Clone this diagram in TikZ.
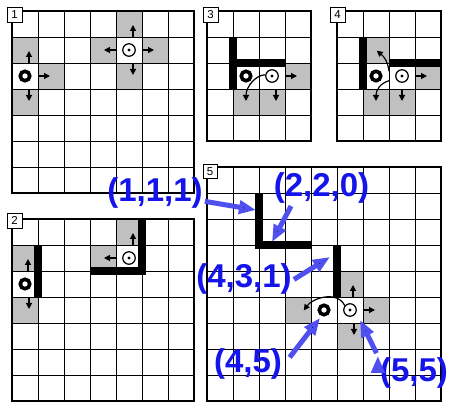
\documentclass[tikz,border=0pt]{standalone}
\usepackage{fontspec}
\setsansfont{Liberation Sans}
\usetikzlibrary{arrows.meta,positioning}
\definecolor{cellgray}{RGB}{192,192,192}
\definecolor{labelblue}{RGB}{20,20,235}
\definecolor{arrowblue}{RGB}{80,80,240}

\begin{document}
\begin{tikzpicture}[x=1pt,y=-1pt,
	cell/.style={draw,line width=0.9pt,minimum size=26pt,inner sep=0pt,outer sep=0pt},
	gridframe/.style={line width=2.2pt},
	wall/.style={line width=7.5pt,line cap=butt,line join=miter},
	ring/.style={circle,draw,line width=3.6pt,minimum size=9.5pt,inner sep=0pt,fill=white},
	goal/.style={circle,draw,line width=1.2pt,minimum size=12.5pt,inner sep=0pt,fill=white,
		path picture={\fill[black] (path picture bounding box.center) circle (1.7pt);}},
	mv/.style={-{Triangle[length=6pt,width=6pt]},line width=1.2pt,shorten >=1pt},
	tag/.style={draw,fill=white,line width=0.8pt,minimum size=15pt,inner sep=0pt,font=\sffamily\fontsize{11.5}{12}\selectfont},
	coordlabel/.style={font=\sffamily\bfseries\fontsize{33}{33}\selectfont,text=labelblue,inner sep=2pt,anchor=base},
	pointer/.style={-{Triangle[length=17pt,width=13pt]},line width=5pt,draw=arrowblue}]

	\fill[white] (0,0) rectangle (459,411);
	\useasboundingbox (0,0) rectangle (459,411);

	% panel 1
	\begin{scope}[shift={(12,11)},x=26pt,y=-26pt]
		\foreach \c/\r in {0/1,1/2,0/3,4/0,3/1,5/1,4/2}
			\fill[cellgray] (\c,\r) rectangle ++(1,1);
		\foreach \c in {0,...,6}
			\foreach \r in {0,...,6}
				\node[cell] (p1-\c-\r) at (\c+0.5,\r+0.5) {};
		\draw[gridframe] (0,0) rectangle (7,7);
		\node[ring] (r1) at (p1-0-2) {};
		\node[goal] (g1) at (p1-4-1) {};
	\end{scope}
	\path[mv]
		([xshift=4pt]p1-0-2.north) edge ([xshift=4pt]p1-0-1.center)
		(p1-0-2.east) edge (p1-1-2.center)
		([xshift=4pt]p1-0-2.south) edge ([xshift=4pt]p1-0-3.center)
		([xshift=4pt]p1-4-1.north) edge ([xshift=4pt]p1-4-0.center)
		(p1-4-1.west) edge (p1-3-1.center)
		(p1-4-1.east) edge (p1-5-1.center)
		([xshift=4pt]p1-4-1.south) edge ([xshift=4pt]p1-4-2.center);

	% panel 2
	\begin{scope}[shift={(12,219)},x=26pt,y=-26pt]
		\foreach \c/\r in {0/1,0/3,4/0,3/1}
			\fill[cellgray] (\c,\r) rectangle ++(1,1);
		\foreach \c in {0,...,6}
			\foreach \r in {0,...,6}
				\node[cell] (p2-\c-\r) at (\c+0.5,\r+0.5) {};
		\draw[gridframe] (0,0) rectangle (7,7);
		\draw[wall] (1,1) -- (1,3);
		\draw[wall] (5,0) -- (5,2) -- (3,2);
		\node[ring] (r2) at (p2-0-2) {};
		\node[goal] (g2) at (p2-4-1) {};
	\end{scope}
	\path[mv]
		([xshift=3pt]p2-0-2.north) edge ([xshift=3pt]p2-0-1.center)
		([xshift=4pt]p2-0-2.south) edge ([xshift=4pt]p2-0-3.center)
		([xshift=4pt]p2-4-1.north) edge ([xshift=4pt]p2-4-0.center)
		(p2-4-1.west) edge (p2-3-1.center);

	% panel 3
	\begin{scope}[shift={(207,11)},x=26pt,y=-26pt]
		\foreach \c/\r in {3/2,1/3,2/3}
			\fill[cellgray] (\c,\r) rectangle ++(1,1);
		\foreach \c in {0,...,3}
			\foreach \r in {0,...,4}
				\node[cell] (p3-\c-\r) at (\c+0.5,\r+0.5) {};
		\draw[gridframe] (0,0) rectangle (4,5);
		\draw[wall] (1,1) -- (1,3);
		\draw[wall] (1,2) -- (3,2);
		\node[ring] (r3) at (p3-1-2) {};
		\node[goal] (g3) at (p3-2-2) {};
		\draw[mv] (g3.170) .. controls +(-0.35,0) and +(0,-0.6) .. (p3-1-3.center);
	\end{scope}
	\path[mv]
		(p3-2-2.east) edge (p3-3-2.center)
		([xshift=4pt]p3-2-2.south) edge ([xshift=4pt]p3-2-3.center);

	% panel 4
	\begin{scope}[shift={(337,11)},x=26pt,y=-26pt]
		\foreach \c/\r in {1/1,3/2,1/3,2/3}
			\fill[cellgray] (\c,\r) rectangle ++(1,1);
		\foreach \c in {0,...,3}
			\foreach \r in {0,...,4}
				\node[cell] (p4-\c-\r) at (\c+0.5,\r+0.5) {};
		\draw[gridframe] (0,0) rectangle (4,5);
		\draw[wall] (1,1) -- (1,3);
		\draw[wall] (2,2) -- (4,2);
		\node[ring] (r4) at (p4-1-2) {};
		\node[goal] (g4) at (p4-2-2) {};
		\draw[mv] (p4-2-2.160) .. controls +(-0.05,-0.4) and +(0.3,0.25) .. (p4-1-1.center);
		\draw[mv] (p4-2-2.200) .. controls +(-0.35,0.1) and +(0,-0.45) .. (p4-1-3.center);
	\end{scope}
	\path[mv]
		(p4-2-2.east) edge (p4-3-2.center)
		(p4-2-2.south) edge (p4-2-3.center);

	% panel 5
	\begin{scope}[shift={(207,167)},x=26pt,y=-26pt]
		\foreach \c/\r in {5/4,3/5,6/5,5/6}
			\fill[cellgray] (\c,\r) rectangle ++(1,1);
		\foreach \c in {0,...,8}
			\foreach \r in {0,...,8}
				\node[cell] (p5-\c-\r) at (\c+0.5,\r+0.5) {};
		\draw[gridframe] (0,0) rectangle (9,9);
		\draw[wall] (2,1) -- (2,3) -- (4,3);
		\draw[wall] (5,3) -- (5,5);
		\node[ring] (r5) at (p5-4-5) {};
		\node[goal] (g5) at (p5-5-5) {};
		\coordinate (t5) at (3.7,5.55);
		\draw[mv] (g5.140) .. controls +(-0.3,-0.6) and +(0.35,-0.5) .. (t5);
	\end{scope}
	\path[mv]
		([xshift=3pt]p5-5-5.north) edge ([xshift=3pt]p5-5-4.center)
		(p5-5-5.east) edge (p5-6-5.center)
		([xshift=4pt]p5-5-5.south) edge ([xshift=4pt]p5-5-6.center);

	\node[tag] (n1) at (14.5,14.5) {1};
	\node[tag] (n2) at (14.5,220.5) {2};
	\node[tag] (n3) at (210.5,14.5) {3};
	\node[tag] (n4) at (337.5,14.5) {4};
	\node[tag,minimum size=14pt] (n5) at (210,171.5) {5};

	\node[coordlabel] (l111) at (155,202) {(1,1,1)};
	\node[coordlabel] (l220) at (321.5,197) {(2,2,0)};
	\node[coordlabel] (l431) at (244,288) {(4,3,1)};
	\node[coordlabel] (l45) at (248,373) {(4,5)};
	\node[coordlabel] (l55) at (414,382) {(5,5)};

	\coordinate (t111) at (256,210);
	\coordinate (t220) at (272,242);
	\coordinate (t431) at (330,257);
	\coordinate (t45) at (320,318);
	\coordinate (t55) at (360,320);

	\path[pointer]
		(l111.351) edge (t111)
		(l220.210) edge (t220)
		(l431.east) edge (t431)
		(l45.east) edge[shorten <=9pt] (t45)
		(l55.north west) edge[shorten <=3pt] (t55);
\end{tikzpicture}
\end{document}
